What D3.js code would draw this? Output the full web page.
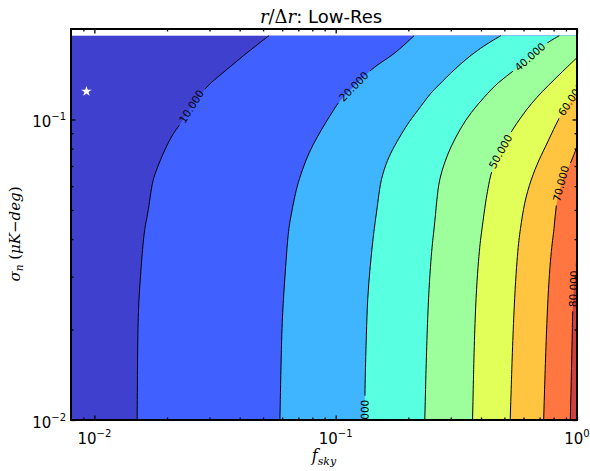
<!DOCTYPE html>
<html><head><meta charset="utf-8">
<script src="https://cdn.jsdelivr.net/npm/d3@7"></script>
<style>body{margin:0;background:#fff}svg{display:block}</style>
</head><body>
<svg id="chart" width="590" height="471"></svg>
<script>
// ---- data ----
const levels = [10, 20, 30, 40, 50, 60, 70, 80];
const fskyDomain = [0.008, 1];
const sigmaDomain = [0.01, 0.2];
const sigmaDataMax = 0.19;

const contour10 = [[0.01504,0.0100],[0.01512,0.0195],[0.01527,0.02512],[0.01562,0.03236],[0.01605,0.04233],[0.01655,0.0475],[0.01691,0.05288],[0.01735,0.06166],[0.01791,0.06657],[0.01879,0.07356],[0.02003,0.08254],[0.02133,0.09048],[0.02238,0.09477],[0.02526,0.1105],[0.02888,0.1279],[0.03229,0.138],[0.03667,0.1502],[0.04301,0.1671],[0.05287,0.19]];
const contour20 = [[0.05873,0.0100],[0.05969,0.0195],[0.06067,0.02512],[0.06202,0.03236],[0.06352,0.04233],[0.06537,0.04824],[0.06727,0.05412],[0.06889,0.05933],[0.07274,0.06813],[0.07746,0.07762],[0.08399,0.08777],[0.0909,0.09772],[0.09838,0.108],[0.1032,0.1148],[0.1188,0.1288],[0.1375,0.1445],[0.1537,0.1549],[0.1746,0.1646],[0.2113,0.19]];
const contour30 = [[0.1319,0.0100],[0.1323,0.01359],[0.1341,0.0195],[0.1354,0.02512],[0.1388,0.03236],[0.1438,0.04233],[0.1472,0.04824],[0.1501,0.05412],[0.1537,0.0631],[0.1639,0.07356],[0.1746,0.08128],[0.192,0.09261],[0.2047,0.1],[0.2253,0.1105],[0.2479,0.1227],[0.2642,0.1288],[0.3097,0.1468],[0.3873,0.1711],[0.4837,0.19]];
const contour40 = [[0.234,0.01],[0.2401,0.02326],[0.2495,0.03687],[0.2558,0.04299],[0.2625,0.05412],[0.2683,0.0631],[0.2834,0.07244],[0.3001,0.08128],[0.3302,0.09404],[0.3633,0.1055],[0.4113,0.1184],[0.4688,0.1328],[0.5584,0.1468],[0.6383,0.1615],[0.7315,0.1778],[0.8446,0.19]];
const contour50 = [[0.3692,0.01],[0.3774,0.02326],[0.3932,0.03687],[0.4035,0.04299],[0.4192,0.05412],[0.4273,0.05843],[0.4398,0.06709],[0.4792,0.07822],[0.5323,0.0912],[0.6444,0.1137],[0.8051,0.1359],[1.0,0.1606]];
const contour60 = [[0.5287,0.01],[0.5462,0.02326],[0.5675,0.03687],[0.5818,0.04299],[0.6045,0.05288],[0.6444,0.0631],[0.6956,0.07356],[0.7556,0.08382],[0.8446,0.1023],[0.9443,0.1166],[1.0,0.124]];
const contour70 = [[0.7274,0.01],[0.7507,0.02326],[0.78,0.03687],[0.8051,0.04299],[0.8183,0.05288],[0.8582,0.06119],[0.9088,0.06813],[0.9443,0.07189],[1.0,0.08128]];
const contour80 = [[0.938,0.01],[0.949,0.01468],[0.9598,0.02326],[0.9672,0.02733],[0.9952,0.03162],[1.0,0.0383]];

const labelLevels = [10, 20, 30, 40, 50, 60, 70, 80];
const labelFsky  = [0.02526, 0.1188, 0.1319, 0.6383, 0.482, 0.9443, 0.8582, 0.9672];
const labelSigma = [0.1105, 0.1288, 0.01015, 0.1615, 0.0782, 0.1166, 0.06119, 0.02733];

const starPoint = [0.00927, 0.124];

const xMajorTicks = [0.01, 0.1, 1];
const xMajorExp = ["\u22122", "\u22121", "0"];
const xMinorTicks = [0.009, 0.02,0.03,0.04,0.05,0.06,0.07,0.08,0.09, 0.2,0.3,0.4,0.5,0.6,0.7,0.8,0.9];
const yMajorTicks = [0.01, 0.1];
const yMajorExp = ["\u22122", "\u22121"];
const yMinorTicks = [0.02,0.03,0.04,0.05,0.06,0.07,0.08,0.09];

// jet colormap (alpha 0.75 on white), one colour per band 0-10 ... 80-90
const fillColors = ["#4040cf","#4060ff","#40b5ff","#58ffe1","#9cff9c","#e1ff58","#ffc540","#ff7640","#d04040"];

// ---- drawing ----
const contours = [contour10, contour20, contour30, contour40, contour50, contour60, contour70, contour80];
const x0 = 71, x1 = 577, y0 = 29, y1 = 420;
const x = d3.scaleLog().domain(fskyDomain).range([x0, x1]);
const y = d3.scaleLog().domain(sigmaDomain).range([y1, y0]);

const svg = d3.select("#chart");
const defs = svg.append("defs");
defs.append("clipPath").attr("id", "plotClip").append("rect")
  .attr("x", x0).attr("y", y0).attr("width", x1 - x0).attr("height", y1 - y0);
const mask = defs.append("mask").attr("id", "labelMask")
  .attr("maskUnits", "userSpaceOnUse").attr("x", 0).attr("y", 0).attr("width", 590).attr("height", 471);
mask.append("rect").attr("x", 0).attr("y", 0).attr("width", 590).attr("height", 471).attr("fill", "white");

const plot = svg.append("g").attr("clip-path", "url(#plotClip)");

// background band (0-10)
plot.append("rect")
  .attr("x", x(fskyDomain[0])).attr("y", y(sigmaDataMax))
  .attr("width", x(fskyDomain[1]) - x(fskyDomain[0]))
  .attr("height", y(sigmaDomain[0]) - y(sigmaDataMax))
  .attr("fill", fillColors[0]);

const lineGen = d3.line().x(d => x(d[0])).y(d => y(d[1])).curve(d3.curveBasis);

contours.forEach((pts, i) => {
  const last = pts[pts.length - 1];
  const tail = [];
  if (last[1] >= sigmaDataMax - 1e-9) tail.push([fskyDomain[1], sigmaDataMax]);
  tail.push([fskyDomain[1], sigmaDomain[0]]);
  const d = lineGen(pts) + tail.map(p => "L" + x(p[0]) + "," + y(p[1])).join("") + "Z";
  plot.append("path").attr("d", d).attr("fill", fillColors[i + 1]);
});

const lineG = plot.append("g").attr("mask", "url(#labelMask)");
contours.forEach(pts => {
  lineG.append("path").attr("d", lineGen(pts)).attr("fill", "none")
    .attr("stroke", "#000").attr("stroke-width", 1);
});

function labelAngle(pts, px, py) {
  let best = Infinity, ang = 0;
  for (let i = 0; i < pts.length - 1; i++) {
    const ax = x(pts[i][0]), ay = y(pts[i][1]), bx = x(pts[i+1][0]), by = y(pts[i+1][1]);
    const dx = bx - ax, dy = by - ay, L2 = dx*dx + dy*dy;
    let t = ((px - ax)*dx + (py - ay)*dy) / L2; t = Math.max(0, Math.min(1, t));
    const dd = Math.hypot(ax + t*dx - px, ay + t*dy - py);
    if (dd < best) { best = dd; ang = Math.atan2(dy, dx) * 180 / Math.PI; }
  }
  if (ang > 90) ang -= 180; if (ang < -90) ang += 180;
  return ang;
}

const labelG = plot.append("g");
labelLevels.forEach((lev, i) => {
  const pts = contours[levels.indexOf(lev)];
  const px = x(labelFsky[i]), py = y(labelSigma[i]);
  const ang = labelAngle(pts, px, py);
  const t = labelG.append("text")
    .attr("transform", `translate(${px},${py}) rotate(${ang})`)
    .attr("text-anchor", "middle").attr("dy", "0.35em")
    .attr("font-family", "DejaVu Sans").attr("font-size", 10.5).attr("fill", "#000")
    .text(d3.format(".3f")(lev));
  const w = t.node().getComputedTextLength();
  mask.append("rect").attr("x", -w/2 - 4).attr("y", -6).attr("width", w + 8).attr("height", 12)
    .attr("transform", `translate(${px},${py}) rotate(${ang})`).attr("fill", "black");
});

// star
plot.append("path").attr("d", d3.symbol(d3.symbolStar).size(34)())
  .attr("transform", `translate(${x(starPoint[0])},${y(starPoint[1])})`).attr("fill", "#fff");

// ticks
function ticks(axisFn, scale, vals, size, transform) {
  svg.append("g").attr("transform", transform)
    .call(axisFn(scale).tickValues(vals).tickSize(-size).tickFormat(""))
    .call(g => g.select(".domain").remove())
    .call(g => g.selectAll("line").attr("stroke", "#000").attr("stroke-width", 1.3));
}
ticks(d3.axisBottom, x, xMajorTicks, 4.5, `translate(0,${y1})`);
ticks(d3.axisBottom, x, xMinorTicks, 2.5, `translate(0,${y1})`);
ticks(d3.axisTop, x, xMajorTicks, 4.5, `translate(0,${y0})`);
ticks(d3.axisTop, x, xMinorTicks, 2.5, `translate(0,${y0})`);
ticks(d3.axisLeft, y, yMajorTicks, 4.5, `translate(${x0},0)`);
ticks(d3.axisLeft, y, yMinorTicks, 2.5, `translate(${x0},0)`);
ticks(d3.axisRight, y, yMajorTicks, 4.5, `translate(${x1},0)`);
ticks(d3.axisRight, y, yMinorTicks, 2.5, `translate(${x1},0)`);

// frame
svg.append("rect").attr("x", x0).attr("y", y0).attr("width", x1 - x0).attr("height", y1 - y0)
  .attr("fill", "none").attr("stroke", "#000").attr("stroke-width", 2);

// tick labels
xMajorTicks.forEach((v, i) => {
  const t = svg.append("text").attr("x", x(v)).attr("y", y1 + 24)
    .attr("text-anchor", "middle").attr("font-family", "DejaVu Sans").attr("font-size", 15).attr("fill", "#000");
  t.append("tspan").text("10");
  t.append("tspan").attr("dy", -7).attr("font-size", 10).text(xMajorExp[i]);
});
yMajorTicks.forEach((v, i) => {
  const t = svg.append("text").attr("x", x0 - 5).attr("y", y(v) + 8)
    .attr("text-anchor", "end").attr("font-family", "DejaVu Sans").attr("font-size", 15).attr("fill", "#000");
  t.append("tspan").text("10");
  t.append("tspan").attr("dy", -7).attr("font-size", 10).text(yMajorExp[i]);
});

// title
const title = svg.append("text").attr("x", (x0 + x1) / 2 - 3).attr("y", 23).attr("text-anchor", "middle")
  .attr("font-size", 18).attr("fill", "#000");
title.append("tspan").attr("font-family", "DejaVu Serif").attr("font-style", "italic").text("r");
title.append("tspan").attr("font-family", "DejaVu Serif").text("/\u0394");
title.append("tspan").attr("font-family", "DejaVu Serif").attr("font-style", "italic").text("r");
title.append("tspan").attr("font-family", "DejaVu Sans").text(": Low-Res");

// x label
const xl = svg.append("text").attr("x", (x0 + x1) / 2).attr("y", 461).attr("text-anchor", "middle")
  .attr("font-family", "DejaVu Serif").attr("font-style", "italic").attr("font-size", 16).attr("fill", "#000");
xl.append("tspan").text("f");
xl.append("tspan").attr("dy", 4).attr("font-size", 11).text("sky");

// y label
const yl = svg.append("text").attr("transform", `translate(20,234) rotate(-90)`).attr("text-anchor", "middle")
  .attr("font-family", "DejaVu Serif").attr("font-size", 15).attr("fill", "#000");
yl.append("tspan").attr("font-style", "italic").text("\u03c3");
yl.append("tspan").attr("font-style", "italic").attr("font-size", 10.5).attr("dy", 3).text("n");
yl.append("tspan").attr("dy", -3).text(" (");
yl.append("tspan").attr("font-style", "italic").text("\u03bcK");
yl.append("tspan").text("\u2212");
yl.append("tspan").attr("font-style", "italic").text("deg");
yl.append("tspan").text(")");
</script>
</body></html>
